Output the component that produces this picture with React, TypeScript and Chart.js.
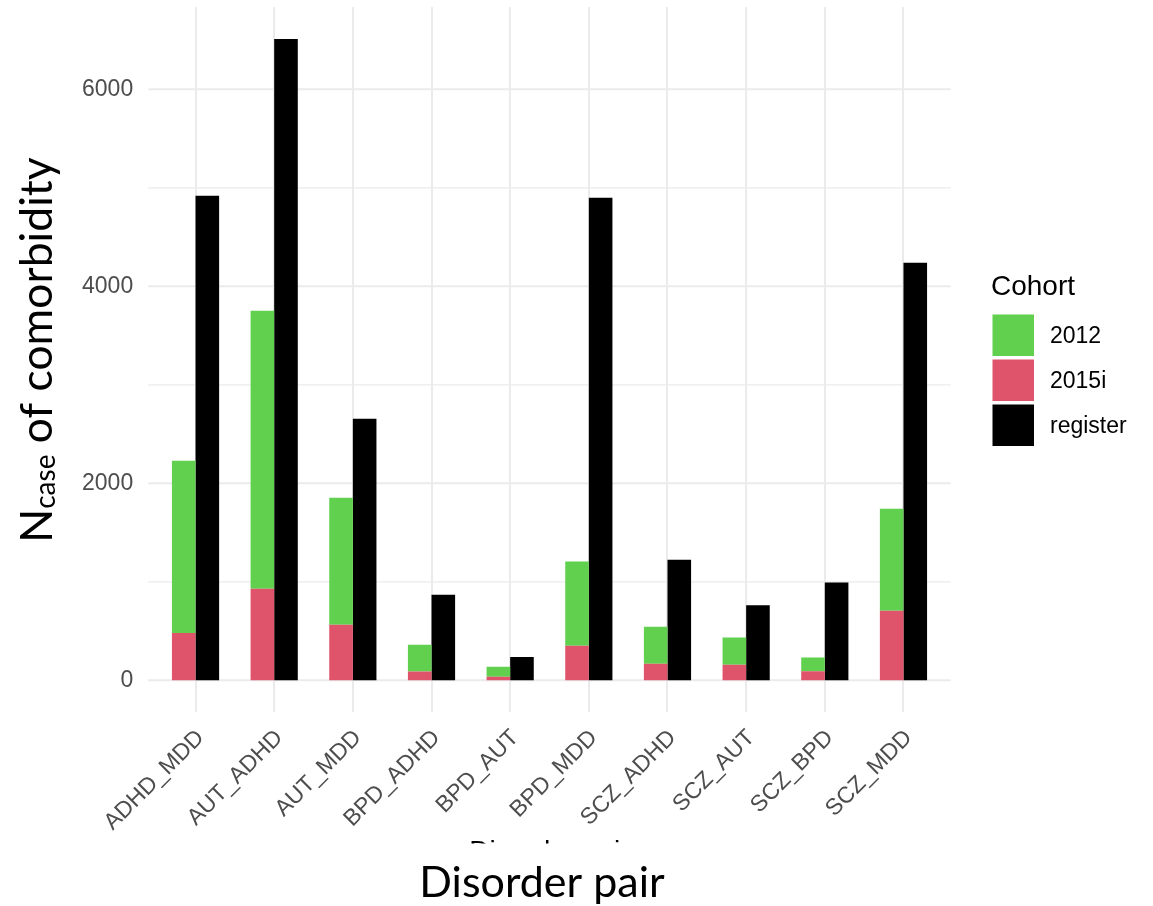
import { useEffect, useRef } from "react";
import { Chart, registerables } from "chart.js";

Chart.register(...registerables);

// Disorder pairs on the x axis
const pairs = [
  "ADHD_MDD",
  "AUT_ADHD",
  "AUT_MDD",
  "BPD_ADHD",
  "BPD_AUT",
  "BPD_MDD",
  "SCZ_ADHD",
  "SCZ_AUT",
  "SCZ_BPD",
  "SCZ_MDD",
];

// Comorbid case counts per cohort (2012 is stacked on top of 2015i)
const cohort2015i = [480, 930, 563, 89, 36, 350, 168, 157, 93, 706];
const cohort2012 = [1748, 2821, 1290, 271, 101, 856, 375, 278, 139, 1035];
const cohortRegister = [4920, 6511, 2655, 868, 236, 4898, 1223, 763, 993, 4239];

const majorTicks = [0, 2000, 4000, 6000];
const minorTicks = [1000, 3000, 5000];

const legendNames = ["2012", "2015i", "register"];
const legendColors = ["#61D04F", "#DF536B", "#000000"];

const AXIS_FONT = "Liberation Sans";
const TITLE_FONT = "Lato";
const GRID = "#ebebeb";

// ggplot-style 5% expansion around the data range
const peak = Math.max(
  ...cohortRegister,
  ...cohort2015i.map((v, i) => v + cohort2012[i])
);
const yMax = peak * 1.05;
const yMin = -peak * 0.05;

const decorations = {
  id: "decorations",
  beforeDatasetsDraw(chart: any) {
    const { ctx, chartArea, scales } = chart;
    const x = scales.x;
    const y = scales.y;
    const step = x.getPixelForValue(1) - x.getPixelForValue(0);
    const ext = step * 0.1;
    const left = chartArea.left - ext;
    const right = chartArea.right + ext;
    ctx.save();
    ctx.strokeStyle = GRID;
    minorTicks.forEach((v) => {
      const py = y.getPixelForValue(v);
      ctx.lineWidth = 1.2;
      ctx.beginPath();
      ctx.moveTo(left, py);
      ctx.lineTo(right, py);
      ctx.stroke();
    });
    majorTicks.forEach((v) => {
      const py = y.getPixelForValue(v);
      ctx.lineWidth = 2;
      ctx.beginPath();
      ctx.moveTo(left, py);
      ctx.lineTo(right, py);
      ctx.stroke();
    });
    ctx.restore();
  },
  afterDraw(chart: any) {
    const { ctx, chartArea } = chart;
    const panelMid = (chartArea.left + chartArea.right) / 2;
    ctx.save();

    // Small axis title, mostly covered by the large one below
    ctx.save();
    ctx.beginPath();
    ctx.rect(0, 0, chart.width, 843.5);
    ctx.clip();
    ctx.fillStyle = "#000";
    ctx.font = `28px ${AXIS_FONT}`;
    ctx.textAlign = "center";
    ctx.textBaseline = "alphabetic";
    ctx.fillText("Disorder pair", panelMid, 860);
    ctx.restore();

    // Large x title
    ctx.fillStyle = "#000";
    ctx.font = `43px ${TITLE_FONT}`;
    ctx.textAlign = "center";
    ctx.textBaseline = "alphabetic";
    ctx.fillText("Disorder pair", 542, 897);

    // Large y title: N_case of comorbidity
    ctx.save();
    ctx.translate(52, 350);
    ctx.rotate(-Math.PI / 2);
    ctx.textAlign = "left";
    const big = `44.5px ${TITLE_FONT}`;
    const small = `28px ${TITLE_FONT}`;
    ctx.font = big;
    const wN = ctx.measureText("N").width;
    const wRest = ctx.measureText(" of comorbidity").width;
    ctx.font = small;
    const wSub = ctx.measureText("case").width;
    let tx = -(wN + wSub + wRest) / 2;
    ctx.font = big;
    ctx.fillText("N", tx, 0);
    tx += wN;
    ctx.font = small;
    ctx.fillText("case", tx, 3);
    tx += wSub;
    ctx.font = big;
    ctx.fillText(" of comorbidity", tx, 0);
    ctx.restore();

    // Legend
    ctx.fillStyle = "#000";
    ctx.font = `28px ${AXIS_FONT}`;
    ctx.textAlign = "left";
    ctx.textBaseline = "middle";
    ctx.fillText("Cohort", 991, 287);
    const keyLeft = 992.5;
    const keySize = 41.5;
    const pitch = 45;
    const firstTop = 314.5;
    ctx.font = `23px ${AXIS_FONT}`;
    legendNames.forEach((name, i) => {
      const top = firstTop + i * pitch;
      ctx.fillStyle = legendColors[i];
      ctx.fillRect(keyLeft, top, keySize, keySize);
      ctx.fillStyle = "#000";
      ctx.fillText(name, 1050, top + keySize / 2 + 1);
    });

    ctx.restore();
  },
};

export default function App() {
  const canvasRef = useRef<HTMLCanvasElement | null>(null);

  useEffect(() => {
    const canvas = canvasRef.current;
    if (!canvas) return;
    const chart = new Chart(canvas, {
      type: "bar",
      data: {
        labels: pairs,
        datasets: [
          {
            label: "2015i",
            data: cohort2015i,
            backgroundColor: "#DF536B",
            stack: "survey",
          },
          {
            label: "2012",
            data: cohort2012,
            backgroundColor: "#61D04F",
            stack: "survey",
          },
          {
            label: "register",
            data: cohortRegister,
            backgroundColor: "#000000",
            stack: "register",
          },
        ],
      },
      options: {
        animation: false,
        responsive: false,
        maintainAspectRatio: false,
        layout: { padding: { top: 6.9, right: 210.2, left: 0, bottom: 0 } },
        datasets: {
          bar: { categoryPercentage: 0.6, barPercentage: 1 },
        },
        plugins: {
          legend: { display: false },
          tooltip: { enabled: false },
        },
        scales: {
          x: {
            stacked: true,
            offset: true,
            grid: {
              offset: false,
              color: GRID,
              lineWidth: 2,
              drawTicks: false,
            },
            border: { display: false },
            ticks: {
              minRotation: 45,
              maxRotation: 45,
              autoSkip: false,
              color: "#4d4d4d",
              font: { family: AXIS_FONT, size: 23 },
              padding: 12,
              labelOffset: 5,
            },
            afterFit: (s: any) => {
              s.height = 193.6;
              s.paddingLeft = 0;
              s.paddingRight = 0;
            },
          },
          y: {
            stacked: true,
            min: yMin,
            max: yMax,
            grid: { display: false, drawTicks: false },
            border: { display: false },
            ticks: {
              color: "#4d4d4d",
              font: { family: AXIS_FONT, size: 23 },
              padding: 23,
              callback: (v: any) => String(v),
            },
            afterBuildTicks: (s: any) => {
              s.ticks = majorTicks.map((v) => ({ value: v }));
            },
            afterFit: (s: any) => {
              s.width = 156.2;
              s.paddingTop = 0;
              s.paddingBottom = 0;
            },
          },
        },
      },
      plugins: [decorations],
    });
    return () => chart.destroy();
  }, []);

  return (
    <div
      style={{
        position: "fixed",
        left: 0,
        top: 0,
        width: 1153,
        height: 906,
        background: "#fff",
      }}
    >
      <canvas
        ref={canvasRef}
        width={1153}
        height={906}
        style={{ display: "block", width: 1153, height: 906 }}
      />
    </div>
  );
}
